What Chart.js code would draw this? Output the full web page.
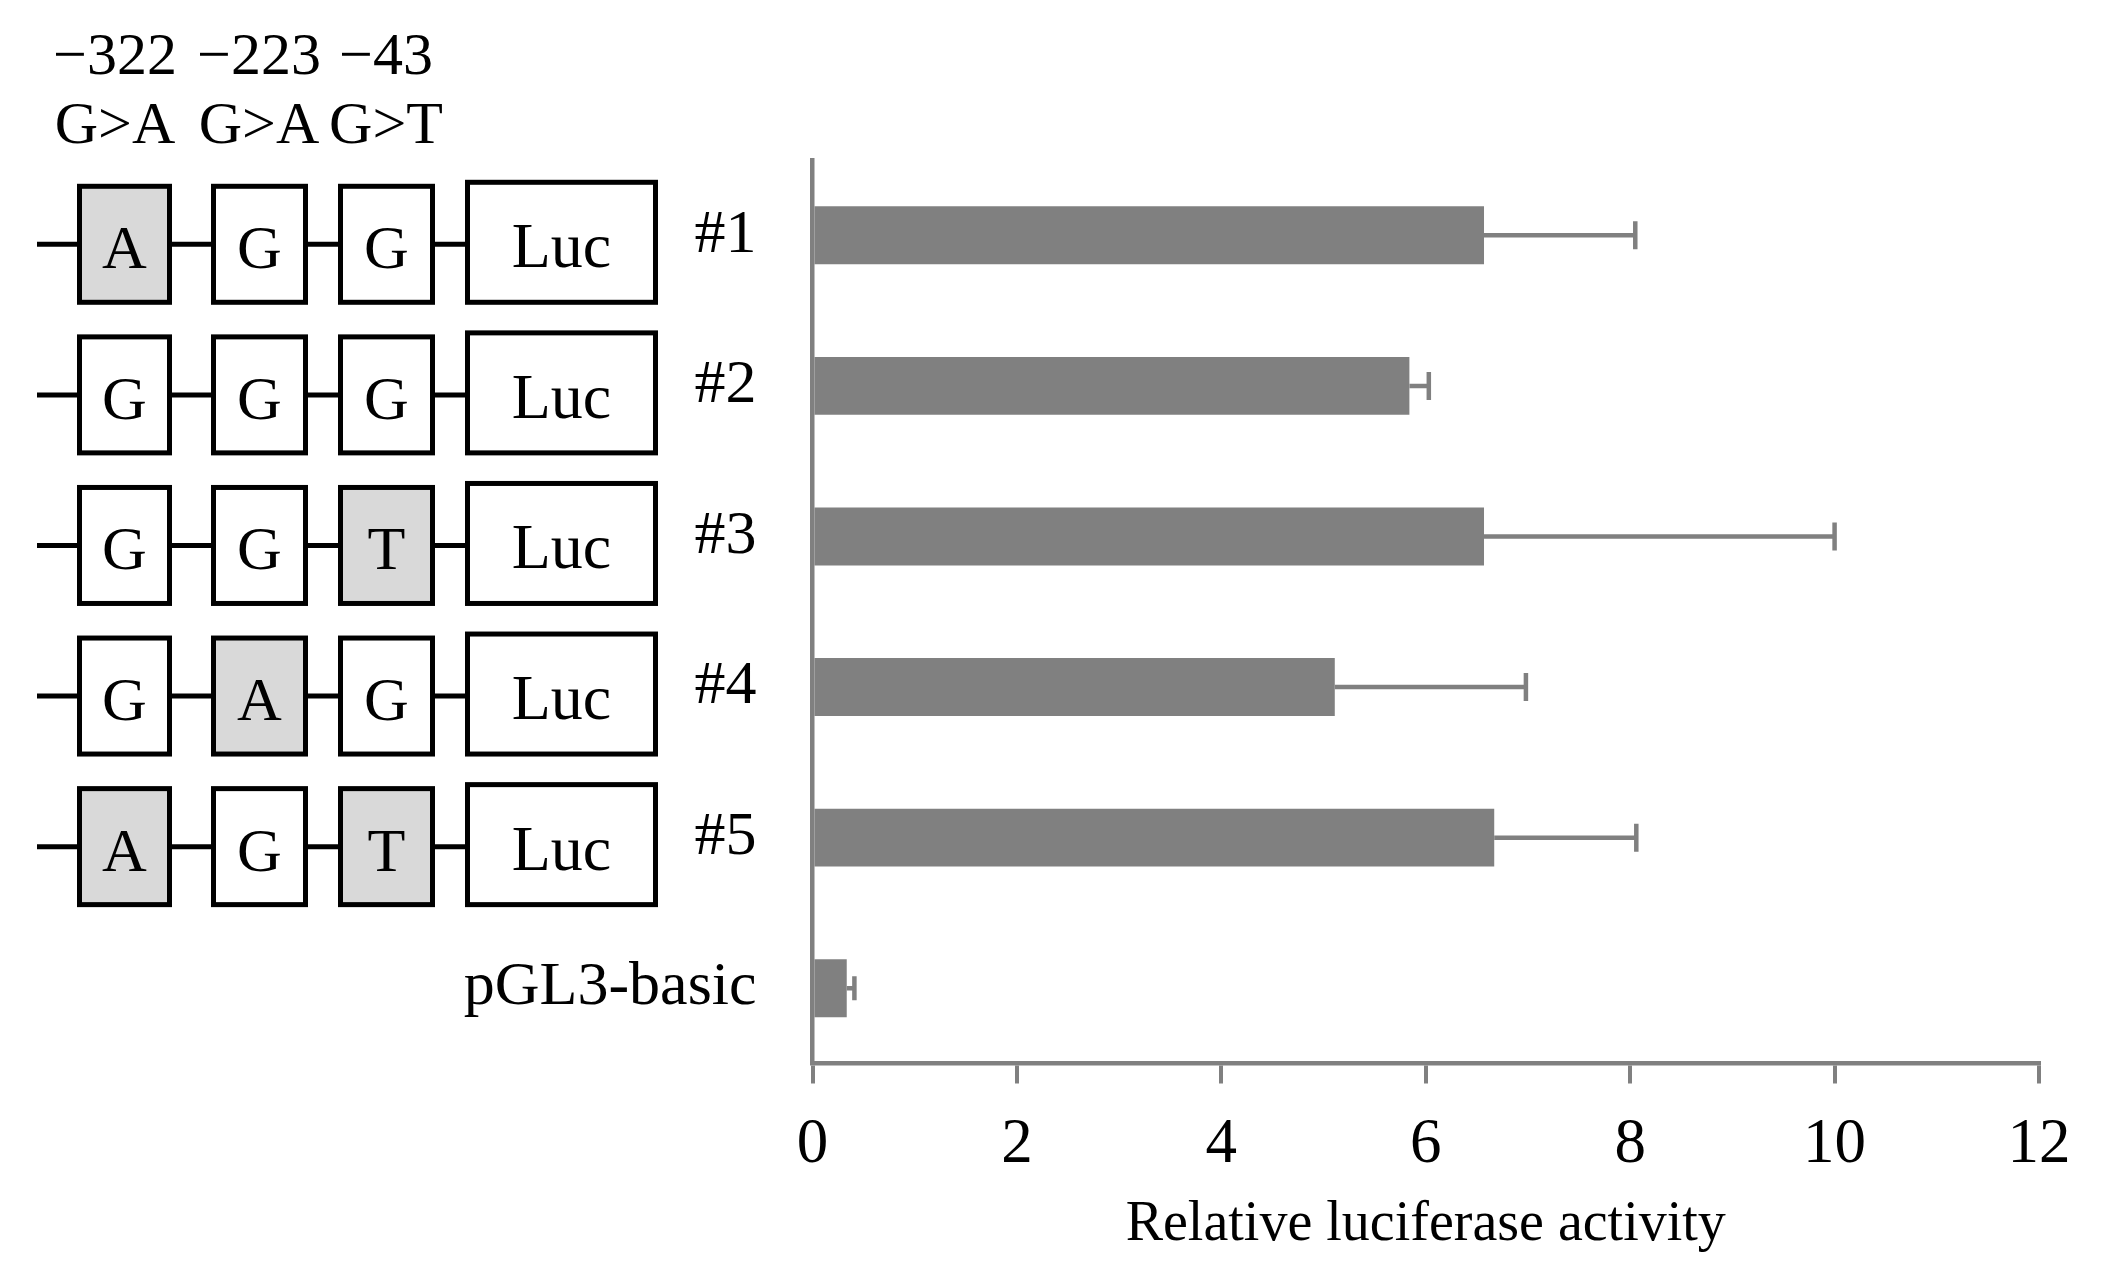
<!DOCTYPE html>
<html>
<head>
<meta charset="utf-8">
<script src="https://cdn.jsdelivr.net/npm/chart.js@4.4.1/dist/chart.umd.min.js"></script>
<style>
  body { margin: 0; background: #fff; }
  #wrap { width: 2103px; height: 1279px; }
</style>
</head>
<body>
<div id="wrap"><canvas id="lucChart" width="2103" height="1279"></canvas></div>
<script>
// data
var labels = ['#1', '#2', '#3', '#4', '#5', 'pGL3-basic'];
var activity = [6.57, 5.84, 6.57, 5.11, 6.67, 0.335];
var errors = [1.48, 0.19, 3.43, 1.87, 1.39, 0.075];
var xTicks = [0, 2, 4, 6, 8, 10, 12];

// promoter constructs (alleles at -322, -223, -43)
var sites = ['\u2212322', '\u2212223', '\u221243'];
var changes = ['G>A', 'G>A', 'G>T'];
var wildType = ['G', 'G', 'G'];
var constructs = [
    ['A', 'G', 'G'],
    ['G', 'G', 'G'],
    ['G', 'G', 'T'],
    ['G', 'A', 'G'],
    ['A', 'G', 'T']
];

var gray = '#808080';
var serif = "'Liberation Serif', 'Times New Roman', serif";

// error bars, only the upper side like the original
var errorBarPlugin = {
    id: 'errorBars',
    afterDatasetsDraw: function(chart) {
        var ctx = chart.ctx;
        var xs = chart.scales.x, ys = chart.scales.y;
        ctx.save();
        ctx.strokeStyle = gray;
        ctx.lineWidth = 4.5;
        for (var i = 0; i < activity.length; i++) {
            var x0 = xs.getPixelForValue(activity[i]);
            var x1 = xs.getPixelForValue(activity[i] + errors[i]);
            var y = ys.getPixelForValue(i);
            var cap = i === activity.length - 1 ? 12 : 14;
            ctx.beginPath();
            ctx.moveTo(x0, y);
            ctx.lineTo(x1, y);
            ctx.moveTo(x1, y - cap);
            ctx.lineTo(x1, y + cap);
            ctx.stroke();
        }
        ctx.restore();
    }
};

// promoter/Luc diagram on the left, one row per construct
var diagramPlugin = {
    id: 'diagram',
    afterDraw: function(chart) {
        var ctx = chart.ctx;
        var ys = chart.scales.y;
        var cols = [[77, 172], [211, 308], [338, 435]];
        var luc = [465, 658];
        var headX = [115, 259, 386];
        ctx.save();
        ctx.fillStyle = '#000';
        ctx.textAlign = 'center';
        ctx.textBaseline = 'alphabetic';
        ctx.font = '60px ' + serif;
        for (var k = 0; k < sites.length; k++) {
            ctx.fillText(sites[k], headX[k], 74);
            ctx.fillText(changes[k], headX[k], 143);
        }

        ctx.lineWidth = 5;
        ctx.strokeStyle = '#000';
        for (var r = 0; r < constructs.length; r++) {
            var yc = ys.getPixelForValue(r) + 9;
            var top = yc - 58, bot = yc + 58;
            // backbone line
            ctx.beginPath();
            ctx.moveTo(37, yc);
            ctx.lineTo(luc[0], yc);
            ctx.stroke();
            for (var c = 0; c < cols.length; c++) {
                var x0 = cols[c][0] + 2.5, x1 = cols[c][1] - 2.5;
                ctx.fillStyle = constructs[r][c] !== wildType[c] ? '#d9d9d9' : '#fff';
                ctx.fillRect(x0, top, x1 - x0, bot - top);
                ctx.strokeRect(x0, top, x1 - x0, bot - top);
                ctx.fillStyle = '#000';
                ctx.font = '62px ' + serif;
                ctx.fillText(constructs[r][c], (x0 + x1) / 2, yc + 24);
            }
            var lx0 = luc[0] + 2.5, lx1 = luc[1] - 2.5;
            ctx.fillStyle = '#fff';
            ctx.fillRect(lx0, top - 4, lx1 - lx0, bot - top + 4);
            ctx.strokeRect(lx0, top - 4, lx1 - lx0, bot - top + 4);
            ctx.fillStyle = '#000';
            ctx.font = '64px ' + serif;
            ctx.fillText('Luc', (lx0 + lx1) / 2, yc + 23);
        }
        ctx.restore();
    }
};

var ctxL = document.getElementById('lucChart').getContext('2d');
var lucChart = new Chart(ctxL, {
    type: 'bar',
    data: {
        labels: labels,
        datasets: [{
            data: activity,
            backgroundColor: gray,
            borderWidth: 0,
            barPercentage: 0.385,
            categoryPercentage: 1
        }]
    },
    options: {
        indexAxis: 'y',
        responsive: false,
        animation: false,
        devicePixelRatio: 1,
        layout: { padding: { left: 0, right: 64, top: 160, bottom: 0 } },
        plugins: {
            legend: { display: false },
            tooltip: { enabled: false }
        },
        scales: {
            x: {
                type: 'linear',
                min: 0,
                max: 12,
                afterBuildTicks: function(scale) {
                    scale.ticks = xTicks.map(function(v) { return { value: v }; });
                },
                afterFit: function(scale) { scale.height = 215.5; },
                grid: {
                    drawOnChartArea: false,
                    drawTicks: true,
                    tickLength: 20,
                    color: gray,
                    lineWidth: 4
                },
                border: { display: true, color: gray, width: 4.5 },
                ticks: {
                    color: '#000',
                    padding: 24,
                    font: { family: serif, size: 63 }
                },
                title: {
                    display: true,
                    text: 'Relative luciferase activity',
                    color: '#000',
                    font: { family: serif, size: 56 },
                    padding: { top: 0, bottom: 20 }
                }
            },
            y: {
                afterFit: function(scale) { scale.width = 812.5; },
                grid: { display: false, drawTicks: false },
                border: { display: true, color: gray, width: 4.5 },
                ticks: {
                    color: '#000',
                    padding: 56,
                    font: { family: serif, size: 62 }
                }
            }
        }
    },
    plugins: [errorBarPlugin, diagramPlugin]
});
</script>
</body>
</html>
